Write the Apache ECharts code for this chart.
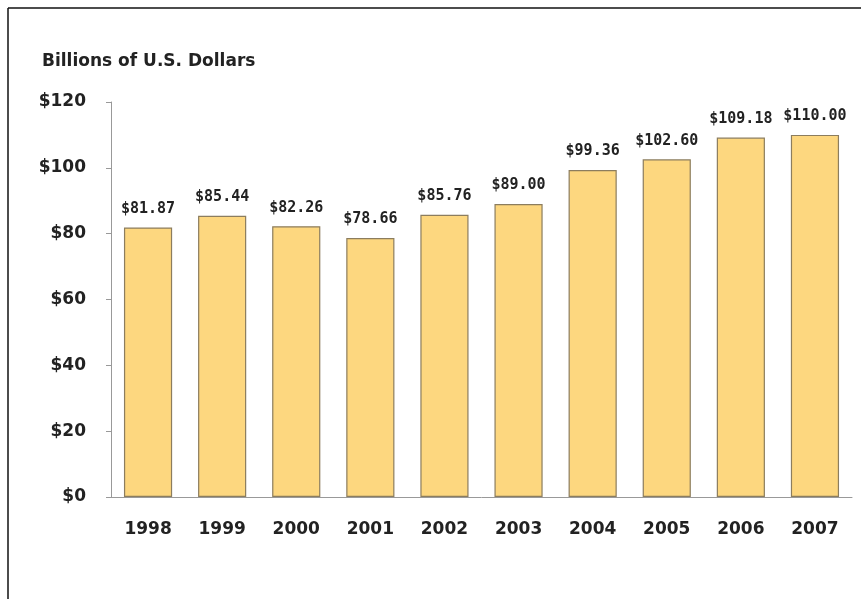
<!DOCTYPE html>
<html lang="en">
<head>
    <meta charset="UTF-8">
    <title>Billions of U.S. Dollars</title>
    <script type="text/javascript" src="https://cdn.jsdelivr.net/npm/echarts@6/dist/echarts.min.js"></script>
    <style>
        html, body {margin: 0; padding: 0; background: #fff;}
        #chart {width: 861px; height: 599px;}
    </style>
</head>
<body>
<div id="chart"></div>
<script>
    var years = ['1998', '1999', '2000', '2001', '2002', '2003', '2004', '2005', '2006', '2007'];
    var values = [81.87, 85.44, 82.26, 78.66, 85.76, 89.00, 99.36, 102.60, 109.18, 110.00];

    var myChart = echarts.init(document.getElementById('chart'));
    var option = {
        animation: false,
        graphic: [
            {type: 'line', shape: {x1: 8, y1: 8, x2: 861, y2: 8}, style: {stroke: '#111', lineWidth: 1.5}},
            {type: 'line', shape: {x1: 8, y1: 8, x2: 8, y2: 599}, style: {stroke: '#111', lineWidth: 1.5}},
            {
                type: 'text', left: 42, top: 53,
                style: {text: 'Billions of U.S. Dollars', font: 'bold 17px "DejaVu Sans", sans-serif', fill: '#222'}
            }
        ],
        grid: {left: 111, right: 9, top: 102, bottom: 102},
        xAxis: {
            type: 'category',
            data: years,
            axisLine: {lineStyle: {color: '#999'}},
            axisTick: {length: 4, lineStyle: {color: '#999'}},
            axisLabel: {
                margin: 24,
                color: '#222',
                fontSize: 17,
                fontWeight: 'bold',
                fontFamily: '"DejaVu Sans", sans-serif'
            }
        },
        yAxis: {
            type: 'value',
            min: 0,
            max: 120,
            interval: 20,
            splitLine: {show: false},
            axisLine: {show: true, lineStyle: {color: '#999'}},
            axisTick: {show: true, length: 5, lineStyle: {color: '#999'}},
            axisLabel: {
                margin: 25,
                color: '#222',
                fontSize: 17,
                fontWeight: 'bold',
                fontFamily: '"DejaVu Sans", sans-serif',
                formatter: function (v) { return '$' + v; }
            }
        },
        series: [{
            type: 'bar',
            data: values,
            barCategoryGap: '35%',
            itemStyle: {color: '#FDD77F', borderColor: '#8C7D5E', borderWidth: 1.2},
            label: {
                show: true,
                position: 'top',
                distance: 11,
                color: '#222',
                fontSize: 15,
                fontWeight: 'bold',
                fontFamily: '"DejaVu Sans Mono", monospace',
                formatter: function (p) { return '$' + p.value.toFixed(2); }
            }
        }]
    };
    myChart.setOption(option);
</script>
</body>
</html>
